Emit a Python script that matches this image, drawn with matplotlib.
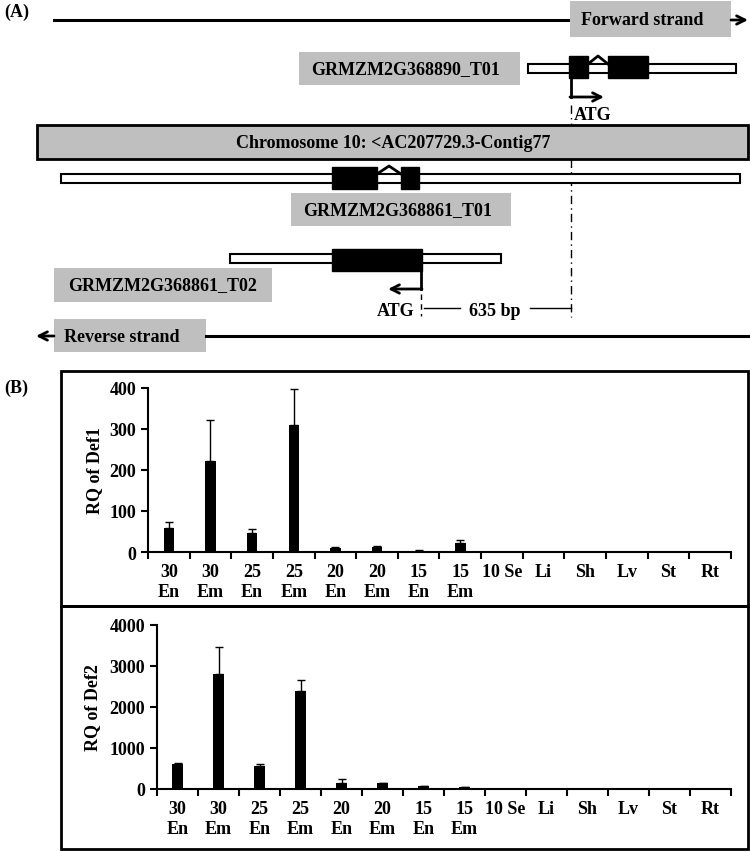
import matplotlib.pyplot as plt
from matplotlib.patches import Rectangle
import numpy as np

plt.rcParams['font.family'] = ['Liberation Serif', 'DejaVu Serif']
plt.rcParams['font.weight'] = 'bold'
plt.rcParams['axes.labelweight'] = 'bold'

# %% Panel B data (relative quantification)
tissues = ["30\nEn", "30\nEm", "25\nEn", "25\nEm", "20\nEn", "20\nEm", "15\nEn", "15\nEm",
           "10 Se", "Li", "Sh", "Lv", "St", "Rt"]
def1_rq = [58, 221, 47, 310, 9, 11, 3, 23, 0, 0, 0, 0, 0, 0]
def1_err = [15, 101, 10, 88, 2, 4, 1, 6, 0, 0, 0, 0, 0, 0]
def2_rq = [600, 2797, 561, 2390, 154, 138, 65, 40, 0, 0, 0, 0, 0, 0]
def2_err = [40, 666, 39, 269, 98, 16, 16, 17, 0, 0, 0, 0, 0, 0]

grey = '#bfbfbf'

fig = plt.figure(figsize=(7.5, 8.53), dpi=100)

# %% Panel A - gene diagram, drawn in pixel coordinates
ax = fig.add_axes([0, 0, 1, 1])
ax.set_xlim(0, 750)
ax.set_ylim(853, 0)
ax.axis('off')


def box(x0, y0, x1, y1, fc, ec='none', lw=0, z=2):
    ax.add_patch(Rectangle((x0, y0), x1 - x0, y1 - y0, fc=fc, ec=ec, lw=lw, zorder=z))


def utr(x0, x1, y0, y1):
    box(x0, y0, x1, y1, 'white', 'black', 1.5)


def exon(x0, x1, y0, y1):
    box(x0, y0, x1, y1, 'black', 'black', 1, z=3)


def arrow(x0, y0, x1, y1):
    ax.annotate('', xy=(x1, y1), xytext=(x0, y0),
                arrowprops=dict(arrowstyle='->', lw=2, color='k', shrinkA=0, shrinkB=0,
                                mutation_scale=15))


fs = 13

# forward strand
ax.plot([54, 570], [21, 21], c='k', lw=2.2)
box(570, 2, 731, 38, grey)
ax.text(581, 20, 'Forward strand', fontsize=fs, ha='left', va='center')
arrow(731, 21, 748, 21)

# GRMZM2G368890_T01
box(299, 53, 520, 86, grey)
ax.text(405, 70, 'GRMZM2G368890_T01', fontsize=fs, ha='center', va='center')
utr(528, 736, 65, 74)
exon(569, 588, 57, 79)
exon(608, 648, 57, 79)
ax.plot([588, 598, 608], [65, 57, 65], c='k', lw=2)
ax.plot([571, 571], [79, 98], c='k', lw=2)
arrow(570, 98, 604, 98)
ax.text(574, 115, 'ATG', fontsize=fs, ha='left', va='center')

# dash-dot marker of the 890 ATG
ax.plot([571, 571], [106, 318], c='k', lw=1, ls=(0, (6, 3, 1, 3)))

# chromosome bar
box(37, 126, 748, 160, grey, 'k', 2)
ax.text(393, 143, 'Chromosome 10: <AC207729.3-Contig77', fontsize=fs, ha='center', va='center')

# GRMZM2G368861_T01
utr(61, 740, 175, 184)
exon(332, 377, 168, 190)
exon(401, 419, 168, 190)
ax.plot([377, 389, 401], [175, 167, 175], c='k', lw=2)
box(291, 194, 511, 227, grey)
ax.text(398, 211, 'GRMZM2G368861_T01', fontsize=fs, ha='center', va='center')

# GRMZM2G368861_T02
utr(230, 501, 255, 264)
exon(332, 422, 250, 272)
ax.plot([421, 421], [272, 290], c='k', lw=2)
arrow(422, 290, 388, 290)
box(54, 269, 272, 303, grey)
ax.text(163, 286, 'GRMZM2G368861_T02', fontsize=fs, ha='center', va='center')
ax.text(414, 311, 'ATG', fontsize=fs, ha='right', va='center')
ax.plot([421, 421], [295, 317], c='k', lw=1, ls=(0, (4, 3)))

# 635 bp distance
ax.plot([424, 460], [309, 309], c='k', lw=1)
ax.plot([530, 571], [309, 309], c='k', lw=1)
ax.text(495, 311, '635 bp', fontsize=fs, ha='center', va='center')

# reverse strand
box(54, 320, 206, 353, grey)
ax.text(64, 337, 'Reverse strand', fontsize=fs, ha='left', va='center')
ax.plot([206, 750], [337, 337], c='k', lw=2.2)
arrow(54, 337, 36, 337)

ax.text(4, 12, '(A)', fontsize=fs, ha='left', va='center')
ax.text(4, 388, '(B)', fontsize=fs, ha='left', va='center')

# frames of panel B
ax.add_patch(Rectangle((61, 372), 687, 235, fill=False, ec='k', lw=2))
ax.add_patch(Rectangle((61, 607), 687, 243, fill=False, ec='k', lw=2))

# %% Panel B - bar charts
ax1 = fig.add_axes([148 / 750, (853 - 553) / 853, (731 - 148) / 750, (553 - 389) / 853])
ax2 = fig.add_axes([157 / 750, (853 - 790) / 853, (731 - 157) / 750, (790 - 626) / 853])

x = np.arange(len(tissues))
for a, vals, errs, ymax, step, lab, lx in [(ax1, def1_rq, def1_err, 400, 100, 'RQ of Def1', -0.077),
                                           (ax2, def2_rq, def2_err, 4000, 1000, 'RQ of Def2', -0.098)]:
    vals = np.array(vals)
    errs = np.array(errs)
    a.set_facecolor('none')
    a.bar(x, vals, width=0.25, color='k')
    m = vals > 0
    a.errorbar(x[m], vals[m], yerr=[np.zeros(m.sum()), errs[m]], fmt='none',
               ecolor='k', elinewidth=1, capsize=3, capthick=1)
    a.set_xlim(-0.5, len(tissues) - 0.5)
    a.set_ylim(0, ymax)
    a.set_yticks(np.arange(0, ymax + 1, step))
    a.tick_params(axis='y', labelsize=13, length=5, width=1.5)
    a.set_xticks(np.arange(-0.5, len(tissues), 1))
    a.set_xticklabels([])
    a.tick_params(axis='x', which='major', length=5, width=1.5)
    a.set_xticks(x, minor=True)
    a.set_xticklabels(tissues, minor=True, fontsize=13, linespacing=1.25)
    a.tick_params(axis='x', which='minor', length=0, pad=8)
    for s in ['top', 'right']:
        a.spines[s].set_visible(False)
    for s in ['left', 'bottom']:
        a.spines[s].set_linewidth(1.5)
    a.set_ylabel(lab, fontsize=13)
    a.yaxis.set_label_coords(lx, 0.5)

fig.savefig('out.png', dpi=100)
